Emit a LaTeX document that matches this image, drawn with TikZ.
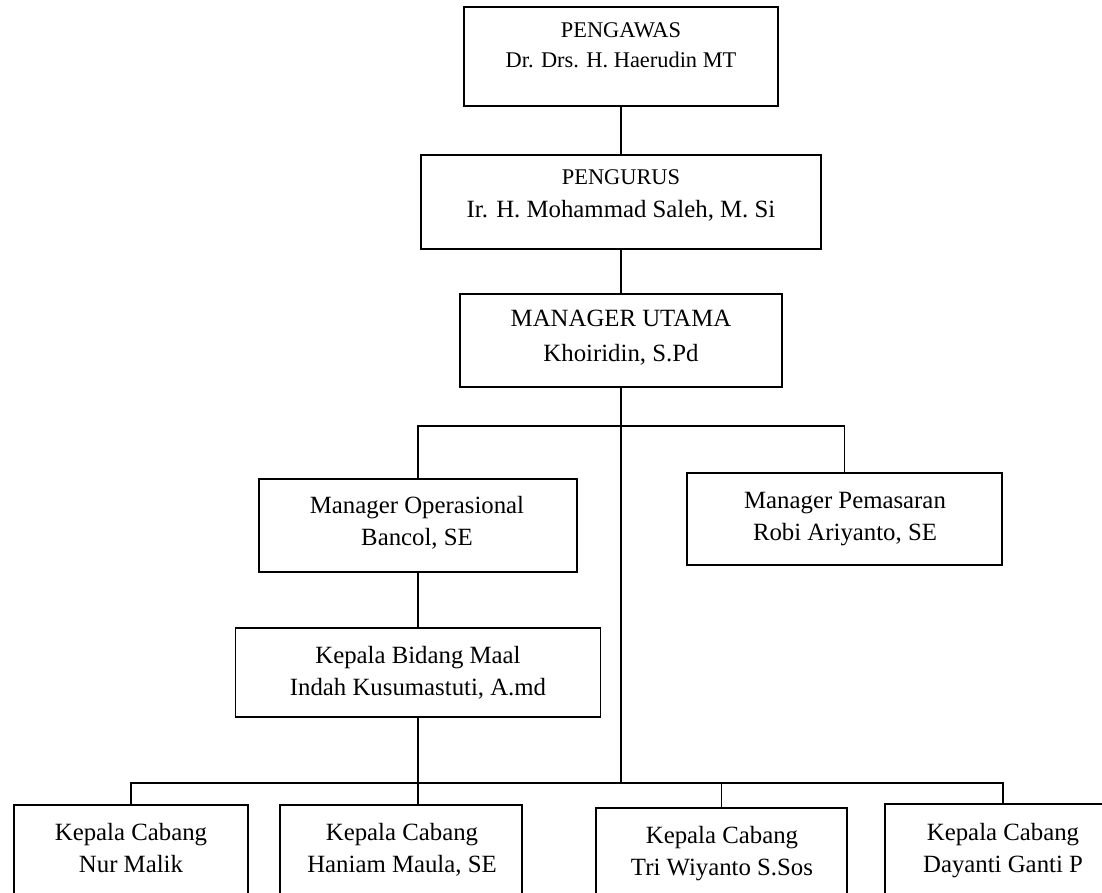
\documentclass[tikz,border=0pt]{standalone}
\usepackage{fontspec}
\setmainfont{Liberation Serif}

\begin{document}
\begin{tikzpicture}[x=.5pt, y=-.5pt,
    box/.style={draw, line width=.8pt, inner sep=0pt},
    txt/.style={inner sep=0pt, align=center, anchor=base, font=\fontsize{12.4}{16}\selectfont},
    small/.style={font=\fontsize{11.2}{15}\selectfont},
    link/.style={line width=.8pt}]
    \path[use as bounding box, clip] (0,0) rectangle (1102,893);
    \node[box, minimum width=157pt, minimum height=49.5pt] (pengawas) at (621,56.5) {};
    \node[box, minimum width=200pt, minimum height=47pt] (pengurus) at (621,202) {};
    \node[box, minimum width=161pt, minimum height=46.5pt] (utama) at (621,340.5) {};
    \node[box, minimum width=159pt, minimum height=46.5pt] (operasional) at (418,525.5) {};
    \node[box, minimum width=157.5pt, minimum height=46pt] (pemasaran) at (844.5,519) {};
    \node[box, minimum width=182.5pt, minimum height=44.5pt] (maal) at (418,672.5) {};
    \node[box, minimum width=117pt, minimum height=70pt] (cabang1) at (131,875) {};
    \node[box, minimum width=121pt, minimum height=70pt] (cabang2) at (401,875) {};
    \node[box, minimum width=125.5pt, minimum height=70pt] (cabang3) at (721.5,878) {};
    \node[box, minimum width=118pt, minimum height=70pt] (cabang4) at (1003,874) {};

    \node[txt, small] (pengawas-t) at (621,68) {PENGAWAS\\Dr. Drs. H. Haerudin MT};
    \node[txt, font=\fontsize{12.4}{16.5}\selectfont] (pengurus-t) at (621,218) {{\fontsize{11.2}{15}\selectfont PENGURUS}\\Ir. H. Mohammad Saleh, M. Si};
    \node[txt, font=\fontsize{12.4}{17.5}\selectfont] (utama-t) at (621,361) {MANAGER UTAMA\\Khoiridin, S.Pd};
    \node[txt] (operasional-t) at (417,545) {Manager Operasional\\Bancol, SE};
    \node[txt] (pemasaran-t) at (845,540) {Manager Pemasaran\\Robi Ariyanto, SE};
    \node[txt] (maal-t) at (418,695) {Kepala Bidang Maal\\Indah Kusumastuti, A.md};
    \node[txt] (cabang1-t) at (131,872) {Kepala Cabang\\Nur Malik};
    \node[txt] (cabang2-t) at (402,872) {Kepala Cabang\\Haniam Maula, SE};
    \node[txt] (cabang3-t) at (722,875) {Kepala Cabang\\Tri Wiyanto S.Sos};
    \node[txt] (cabang4-t) at (1003,872) {Kepala Cabang\\Dayanti Ganti P};

    \coordinate (hubA) at (621,426);
    \coordinate (hubB) at (621,783);
    \draw[link] (pengawas.south) -- (pengurus.north);
    \draw[link] (pengurus.south) -- (utama.north);
    \draw[link] (utama.south) -- (hubB);
    \draw[link] (operasional.north) |- (hubA) -| (pemasaran.north);
    \draw[link] (operasional.south) -- (maal.north);
    \draw[link] (maal.south) -- (maal.south |- cabang2.north);
    \draw[link] (cabang1.north) |- (hubB) -| (cabang4.north);
    \draw[link] (cabang3.north) -- (cabang3.north |- hubB);
\end{tikzpicture}
\end{document}
